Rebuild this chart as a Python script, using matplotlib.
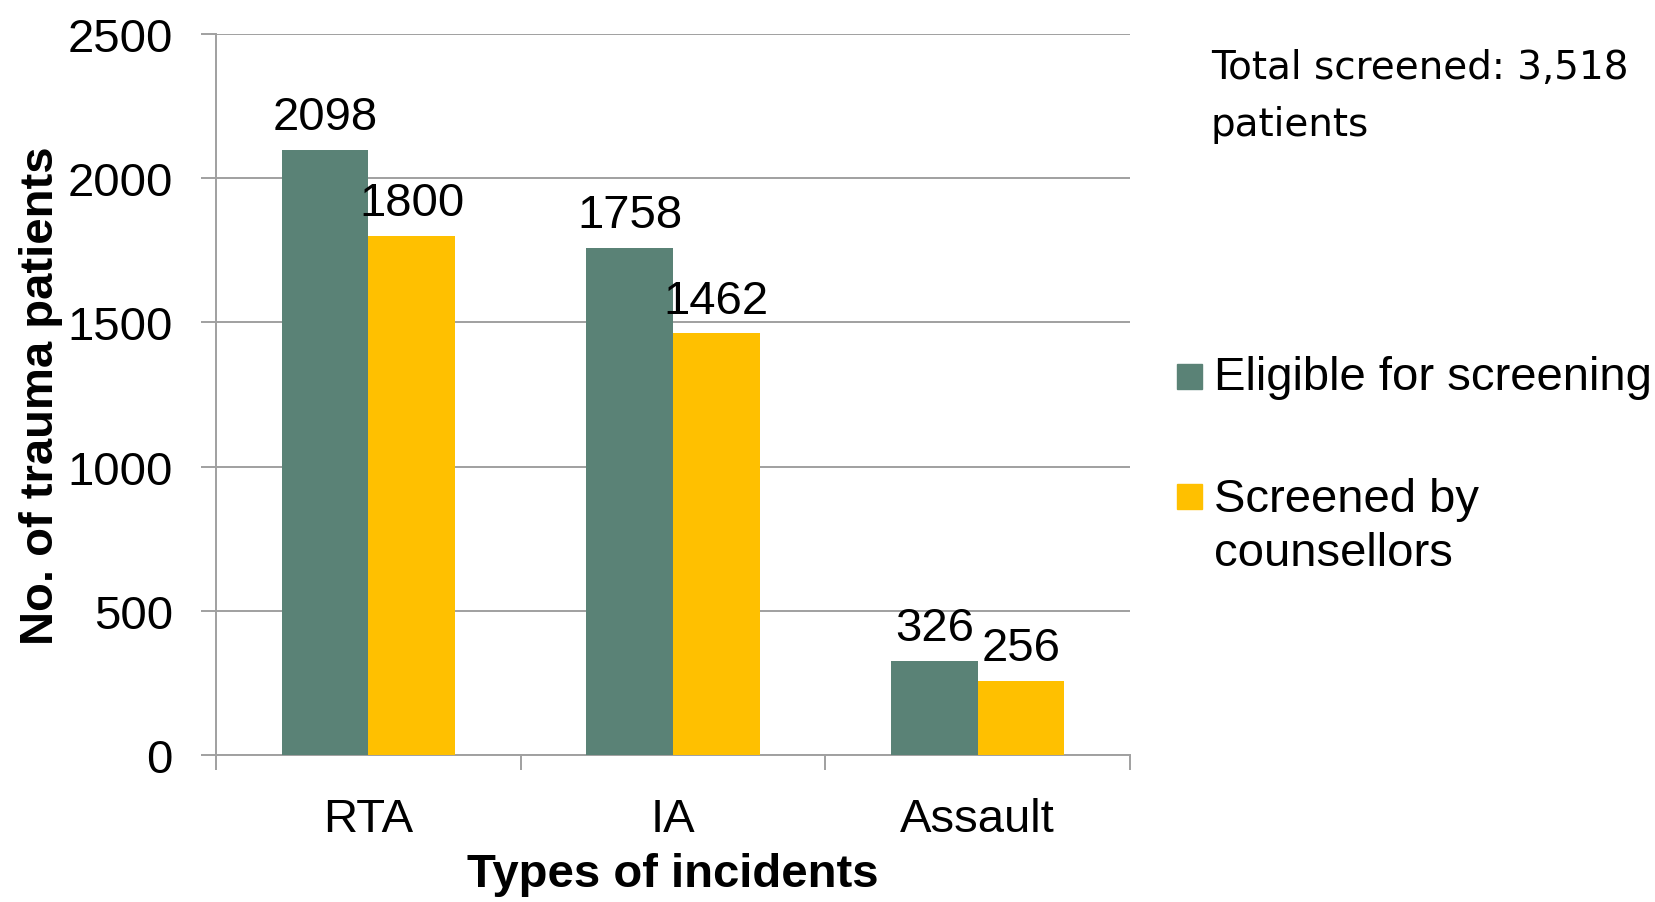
import matplotlib
matplotlib.use("Agg")
import matplotlib.pyplot as plt
import numpy as np
from matplotlib.patches import Rectangle

plt.rcParams['font.family'] = ['Liberation Sans', 'DejaVu Sans']

# data
categories = ['RTA', 'IA', 'Assault']
eligible = [2098, 1758, 326]
screened = [1800, 1462, 256]
series_names = ['Eligible for screening', 'Screened by\ncounsellors']
colors = ['#5A8276', '#FFC000']
note_text = 'Total screened: 3,518\npatients'

FS = 34
W, H = 1656, 903
fig = plt.figure(figsize=(W / 100, H / 100), dpi=100)
ax = fig.add_axes([216 / W, 1 - 756 / H, (1130 - 216) / W, (756 - 35) / H])

x = np.arange(len(categories))
bw = 0.284
b1 = ax.bar(x - bw / 2, eligible, bw, color=colors[0], zorder=3)
b2 = ax.bar(x + bw / 2, screened, bw, color=colors[1], zorder=3)

for bars, vals in ((b1, eligible), (b2, screened)):
    for rect, v in zip(bars, vals):
        ax.annotate(str(v), (rect.get_x() + rect.get_width() / 2, v),
                    xytext=(0, 15), textcoords='offset points',
                    ha='center', va='baseline', fontsize=FS, color='black')

grid_col = '#A0A0A0'
ax.set_ylim(0, 2500)
ax.set_xlim(-0.5, 2.5)
ax.set_yticks(np.arange(0, 2501, 500))
ax.yaxis.grid(True, color=grid_col, linewidth=1.4, zorder=0)
ax.set_axisbelow(True)

ax.set_xticks(x)
ax.set_xticklabels(categories)
ax.set_xticks([-0.5, 0.5, 1.5, 2.5], minor=True)
ax.tick_params(axis='x', which='major', length=0, pad=30, labelsize=FS)
ax.tick_params(axis='x', which='minor', length=11, width=1.4, color=grid_col, direction='out')
ax.tick_params(axis='y', length=11, width=1.4, color=grid_col, direction='out', pad=20, labelsize=FS)

for s in ('top', 'right'):
    ax.spines[s].set_visible(False)
for s in ('left', 'bottom'):
    ax.spines[s].set_color(grid_col)
    ax.spines[s].set_linewidth(1.4)

ax.set_xlabel('Types of incidents', fontsize=FS, fontweight='bold', labelpad=8)
ax.set_ylabel('No. of trauma patients', fontsize=FS, fontweight='bold', labelpad=3)

# legend drawn by hand so the key lines up with the first text line
leg_y = [378, 498]
for col, name, yy in zip(colors, series_names, leg_y):
    fig.add_artist(Rectangle((1177 / W, 1 - (yy + 12) / H), 25 / W, 25 / H,
                             transform=fig.transFigure, color=col))
    if '\n' in name:
        fig.text(1214 / W, 1 - (yy - 20) / H, name, fontsize=FS, va='top', linespacing=1.3)
    else:
        fig.text(1214 / W, 1 - yy / H, name, fontsize=FS, va='center')

fig.text(1211 / W, 1 - 49 / H, note_text, fontsize=28, family='DejaVu Sans',
         va='top', linespacing=1.65)

fig.savefig('out.png', dpi=100)
